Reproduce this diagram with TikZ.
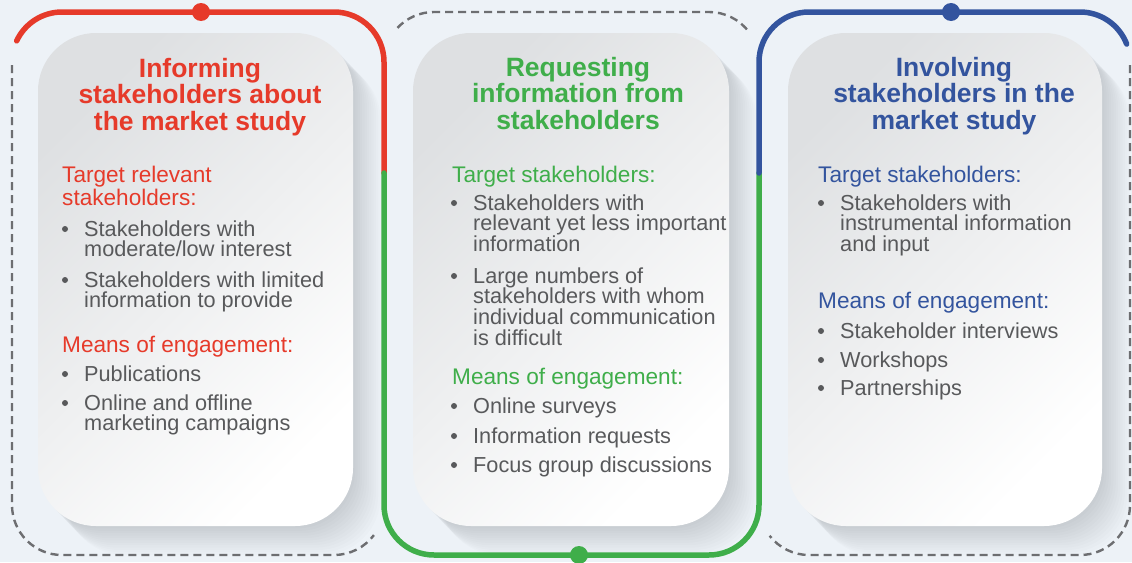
\documentclass[tikz,border=0pt]{standalone}
\usepackage{fontspec}
\setmainfont{Liberation Sans}
\definecolor{bgblue}{HTML}{EDF2F7}
\definecolor{infred}{HTML}{E63A2A}
\definecolor{reqgreen}{HTML}{3FAE4A}
\definecolor{invblue}{HTML}{33549E}
\definecolor{ink}{HTML}{58595B}
\definecolor{dashgray}{HTML}{6D6E71}
\definecolor{cardgray}{HTML}{DEE0E2}

\tikzset{
  frame/.style={line width=5.5pt, line cap=round},
  dashframe/.style={dashgray, line width=2.4pt, dash pattern=on 8pt off 5pt},
  card/.style={rounded corners=58pt, top color=cardgray, middle color=white,
    bottom color=white, shading angle=45},
  cardshadow/.style={black, opacity=0.013, rounded corners=58pt},
  % multi-line nodes sit on the baseline of their last line
  title/.style={font=\fontsize{26.5}{26.5}\selectfont\bfseries, align=center,
    anchor=base, inner sep=0pt},
  head/.style={font=\fontsize{22.6}{23}\selectfont, align=left,
    anchor=base west, inner sep=0pt},
  body/.style={ink, font=\fontsize{21.7}{20.8}\selectfont, align=left,
    anchor=base west, inner sep=0pt},
}

\begin{document}
\begin{tikzpicture}[x=1pt, y=1pt, line join=round]
\fill[bgblue] (0,0) rectangle (1132,-562);
\useasboundingbox (0,0) rectangle (1132,-562);

% card shadows and cards
\foreach \xa/\xb in {38/353, 413/729, 788/1102}{
  \foreach \i in {1,...,12}
    \fill[cardshadow, shift={(2.3*\i,-2.4*\i)}] (\xa,-33) rectangle (\xb,-526);
  \shade[card] (\xa,-33) rectangle (\xb,-526);
}

%========================
% Left: informing
%========================
\draw[dashframe] (12,-65) -- (12,-505) arc[start angle=180, end angle=270, radius=50]
  -- (334,-555) arc[start angle=270, end angle=323, radius=50];
\draw[frame, infred] (62,-62) ++(155:50) arc[start angle=155, end angle=90, radius=50]
  -- (334,-12) arc[start angle=90, end angle=0, radius=50] -- (384,-173);
\fill[infred] (201,-12) circle (9);

\node[title, infred] (infTitle) at (200,-130)
  {Informing\\stakeholders about\\the market study};
\node[head, infred] (infTarget) at (62,-205) {Target relevant\\stakeholders:};
\node[body] (infA) at (84,-256.8) {Stakeholders with\\moderate/low interest};
\node[body] (infB) at (84,-307.8) {Stakeholders with limited\\information to provide};
\node[head, infred] (infMeans) at (62,-352) {Means of engagement:};
\node[body] (infC) at (84,-381) {Publications};
\node[body] (infD) at (84,-430.8) {Online and offline\\marketing campaigns};
\foreach \y in {229,280,374,403} \fill[ink] (65,-\y) circle (3);

%========================
% Middle: requesting
%========================
\draw[dashframe] (434,-62) ++(137:50) arc[start angle=137, end angle=90, radius=50]
  -- (709,-12) arc[start angle=90, end angle=37, radius=50];
\draw[frame, reqgreen] (384,-173) -- (384,-505) arc[start angle=180, end angle=270, radius=50]
  -- (709,-555) arc[start angle=270, end angle=360, radius=50] -- (759,-173);
\fill[reqgreen] (579,-555) circle (9);

\node[title, reqgreen] (reqTitle) at (578,-129)
  {Requesting\\information from\\stakeholders};
\node[head, reqgreen] (reqTarget) at (452,-182) {Target stakeholders:};
\node[body] (reqA) at (473,-251.6) {Stakeholders with\\relevant yet less important\\information};
\node[body] (reqB) at (473,-345.4) {Large numbers of\\stakeholders with whom\\individual communication\\is difficult};
\node[head, reqgreen] (reqMeans) at (452,-384) {Means of engagement:};
\node[body] (reqC) at (473,-413) {Online surveys};
\node[body] (reqD) at (473,-443) {Information requests};
\node[body] (reqE) at (473,-472) {Focus group discussions};
\foreach \y in {203,276,406,436,465} \fill[ink] (454,-\y) circle (3);

%========================
% Right: involving
%========================
\draw[dashframe] (1130,-65) -- (1130,-505) arc[start angle=0, end angle=-90, radius=50]
  -- (809,-555) arc[start angle=270, end angle=218, radius=50];
\draw[frame, invblue] (759,-173) -- (759,-62) arc[start angle=180, end angle=90, radius=50]
  -- (1080,-12) arc[start angle=90, end angle=21, radius=50];
\fill[invblue] (951,-12) circle (9);

\node[title, invblue] (invTitle) at (954,-129)
  {Involving\\stakeholders in the\\market study};
\node[head, invblue] (invTarget) at (818,-182) {Target stakeholders:};
\node[body] (invA) at (840,-251.6) {Stakeholders with\\instrumental information\\and input};
\node[head, invblue] (invMeans) at (818,-308) {Means of engagement:};
\node[body] (invB) at (840,-338) {Stakeholder interviews};
\node[body] (invC) at (840,-367) {Workshops};
\node[body] (invD) at (840,-395) {Partnerships};
\foreach \y in {203,331,360,388} \fill[ink] (821,-\y) circle (3);
\end{tikzpicture}
\end{document}
